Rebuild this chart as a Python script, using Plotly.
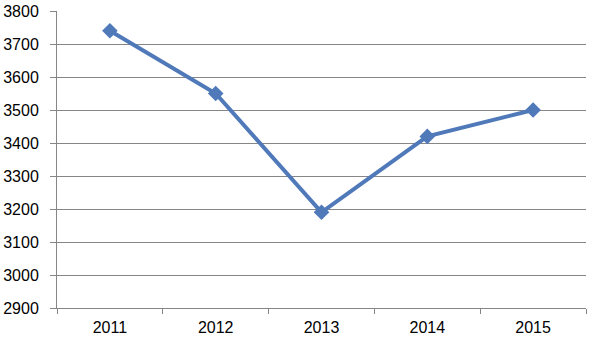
import plotly.graph_objects as go

years = ["2011", "2012", "2013", "2014", "2015"]
values = [3740, 3550, 3190, 3420, 3500]
y_ticks = [2900, 3000, 3100, 3200, 3300, 3400, 3500, 3600, 3700, 3800]

fig = go.Figure()
fig.add_trace(go.Scatter(
    x=years, y=values, mode="lines+markers",
    line=dict(color="#4f79b9", width=4),
    marker=dict(symbol="diamond", size=12, color="#4f79b9"),
    cliponaxis=False,
))
fig.update_layout(
    width=591, height=338,
    margin=dict(l=57, r=5, t=11, b=30),
    paper_bgcolor="white", plot_bgcolor="white",
    showlegend=False,
    font=dict(family="Liberation Sans, Arial, sans-serif", size=16, color="#000000"),
)
fig.update_xaxes(
    type="category", range=[-0.5, 4.5], automargin=False,
    tickson="boundaries", ticks="outside", ticklen=5, tickcolor="#868686",
    showgrid=False, showline=True, linecolor="#868686", linewidth=1,
    tickfont=dict(size=16), ticklabelstandoff=5,
)
fig.update_yaxes(
    range=[2900, 3800], tickvals=y_ticks, automargin=False,
    ticks="outside", ticklen=6, tickcolor="#868686",
    showgrid=True, gridcolor="#868686", gridwidth=1,
    showline=True, linecolor="#868686", linewidth=1,
    zeroline=False, tickfont=dict(size=16), ticklabelstandoff=8,
)
fig.write_html("out.html", post_script="document.body.style.margin='0';",
               config={"displayModeBar": False})
